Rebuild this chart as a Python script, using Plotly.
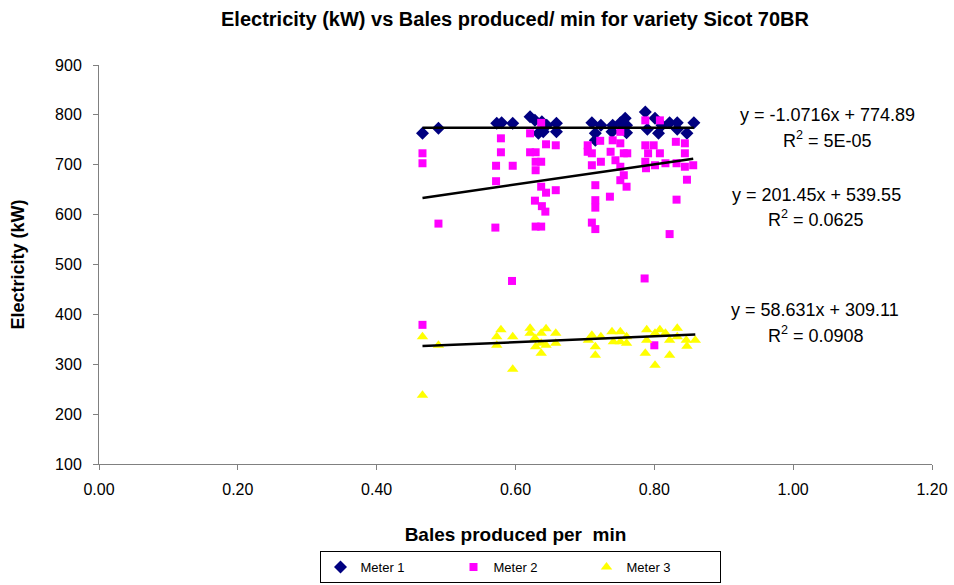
import plotly.graph_objects as go

# ---- Data ----
m1_x = [0.466, 0.489, 0.573, 0.580, 0.596, 0.621, 0.628, 0.638, 0.645, 0.633, 0.640, 0.659, 0.659,
        0.710, 0.723, 0.715, 0.715, 0.740, 0.739, 0.751, 0.758, 0.760, 0.760, 0.787, 0.790, 0.801,
        0.806, 0.811, 0.822, 0.833, 0.833, 0.847, 0.857]
m1_y = [763, 773, 783, 784, 783, 796, 789, 786, 779, 763, 766, 783, 766,
        784, 779, 763, 749, 779, 766, 784, 793, 779, 764, 806, 771, 793,
        763, 779, 784, 784, 771, 763, 784]

m2_x = [0.466, 0.466, 0.579, 0.579, 0.572, 0.596, 0.572, 0.621, 0.637, 0.621, 0.629, 0.629, 0.637,
        0.629, 0.644, 0.658, 0.637, 0.644, 0.658, 0.628, 0.638, 0.643, 0.489, 0.571, 0.629, 0.637,
        0.595, 0.466,
        0.704, 0.704, 0.710, 0.722, 0.723, 0.710, 0.740, 0.737, 0.744, 0.751, 0.751, 0.756, 0.761,
        0.751, 0.756, 0.751, 0.760, 0.715, 0.715, 0.736, 0.787, 0.808, 0.787, 0.799, 0.791, 0.808,
        0.787, 0.788, 0.801, 0.816, 0.831, 0.844, 0.844, 0.832, 0.844, 0.856, 0.847, 0.832,
        0.715, 0.710, 0.715, 0.822, 0.786, 0.800]
m2_y = [723, 703, 753, 725, 698, 698, 667, 763, 784, 725, 725, 706, 706,
        689, 741, 739, 656, 644, 649, 628, 617, 606, 582, 574, 576, 576,
        467, 379,
        739, 726, 723, 748, 706, 699, 749, 726, 709, 766, 743, 723, 723,
        696, 679, 669, 656, 659, 629, 636, 789, 789, 739, 739, 723, 723,
        706, 693, 699, 703, 746, 743, 723, 703, 696, 699, 670, 630,
        614, 584, 571, 561, 472, 338]

m3_x = [0.466, 0.489, 0.466, 0.573, 0.579, 0.573, 0.596, 0.596, 0.621, 0.621, 0.644, 0.637, 0.628,
        0.629, 0.637, 0.644, 0.637, 0.658, 0.658,
        0.705, 0.710, 0.715, 0.715, 0.723, 0.739, 0.741, 0.751, 0.751, 0.760, 0.760, 0.787, 0.789,
        0.789, 0.801, 0.801, 0.808, 0.816, 0.822, 0.822, 0.833, 0.833, 0.846, 0.847, 0.859]
m3_y = [355, 338, 238, 355, 369, 338, 355, 290, 372, 362, 371, 362, 352,
        335, 342, 338, 322, 362, 342,
        348, 358, 335, 318, 355, 365, 345, 365, 345, 355, 342, 322, 369,
        348, 298, 362, 369, 362, 348, 318, 372, 355, 348, 336, 348]

# Trendline equations as printed on the chart
fit_slopes = [-1.0716, 201.45, 58.631]
fit_intercepts = [774.89, 539.55, 309.11]
fit_eq_labels = ["y = -1.0716x + 774.89", "y = 201.45x + 539.55", "y = 58.631x + 309.11"]
fit_r2_labels = ["R<sup>2</sup> = 5E-05", "R<sup>2</sup> = 0.0625", "R<sup>2</sup> = 0.0908"]

x_ticks = [0.0, 0.2, 0.4, 0.6, 0.8, 1.0, 1.2]
y_ticks = [100, 200, 300, 400, 500, 600, 700, 800, 900]

FONT = "Liberation Sans, Arial, sans-serif"
W, H = 954, 585
L, R, T, B = 99, 932, 65, 464


def dx(px):
    return (px - L) / (R - L)


def dy(py):
    return (B - py) / (B - T)


fig = go.Figure()
series = [
    ("Meter 1", m1_x, m1_y, "diamond", "#000080", 10),
    ("Meter 2", m2_x, m2_y, "square", "#FF00FF", 8),
    ("Meter 3", m3_x, m3_y, "triangle-up", "#FFFF00", 10),
]
for name, xs, ys, sym, col, sz in series:
    fig.add_trace(go.Scatter(x=xs, y=ys, mode="markers", name=name,
                             marker=dict(symbol=sym, color=col, size=sz, line=dict(width=0))))

for (name, xs, ys, _, _, _), a, b in zip(series, fit_slopes, fit_intercepts):
    x0, x1 = min(xs), max(xs)
    fig.add_trace(go.Scatter(x=[x0, x1], y=[a * x0 + b, a * x1 + b], mode="lines",
                             line=dict(color="black", width=2.5), showlegend=False,
                             hoverinfo="skip"))

# equation labels (pixel centres)
label_pos = [(827, 115, 827, 139), (816, 195, 816, 218), (815, 310, 816, 334)]
for eq, r2, (ex, ey, rx, ry) in zip(fit_eq_labels, fit_r2_labels, label_pos):
    fig.add_annotation(text=eq, x=dx(ex), y=dy(ey), xref="x domain", yref="y domain",
                       xanchor="center", yanchor="middle", showarrow=False,
                       font=dict(family=FONT, size=18, color="black"))
    fig.add_annotation(text=r2, x=dx(rx), y=dy(ry), xref="x domain", yref="y domain",
                       xanchor="center", yanchor="middle", showarrow=False,
                       font=dict(family=FONT, size=18, color="black"))

fig.update_layout(
    width=W, height=H,
    margin=dict(l=L, r=W - R, t=T, b=H - B, autoexpand=False),
    paper_bgcolor="white", plot_bgcolor="white",
    font=dict(family=FONT, size=16, color="black"),
    title=dict(text="<b>Electricity (kW) vs Bales produced/ min for variety Sicot 70BR</b>",
               x=515 / W, xanchor="center", y=1 - 19 / H, yanchor="middle",
               font=dict(family=FONT, size=20, color="black")),
    xaxis=dict(range=[0, 1.2], tickvals=x_ticks, tickformat=".2f", showgrid=False,
               zeroline=False, showline=True, linecolor="#808080", linewidth=1,
               ticks="outside", ticklen=5, tickcolor="#808080", automargin=False,
               ticklabelstandoff=6,
               tickfont=dict(family=FONT, size=16),
               title=dict(text="<b>Bales produced per  min</b>", standoff=30,
                          font=dict(family=FONT, size=19))),
    yaxis=dict(range=[100, 900], tickvals=y_ticks, showgrid=False, zeroline=False,
               showline=True, linecolor="#808080", linewidth=1,
               ticks="outside", ticklen=5, tickcolor="#808080", automargin=False,
               ticklabelstandoff=8,
               tickfont=dict(family=FONT, size=16),
               title=dict(text="<b>Electricity (kW)</b>", standoff=25,
                          font=dict(family=FONT, size=18))),
    legend=dict(orientation="h", x=dx(520), xanchor="center",
                y=dy(551), yanchor="top",
                bordercolor="black", borderwidth=1, bgcolor="white",
                font=dict(family=FONT, size=13), entrywidth=88, itemwidth=30,
                tracegroupgap=0, valign="middle"),
    showlegend=True,
)

fig.write_html("out.html", config={"displayModeBar": False},
               post_script="document.body.style.margin='0px';document.body.style.padding='0px';")
